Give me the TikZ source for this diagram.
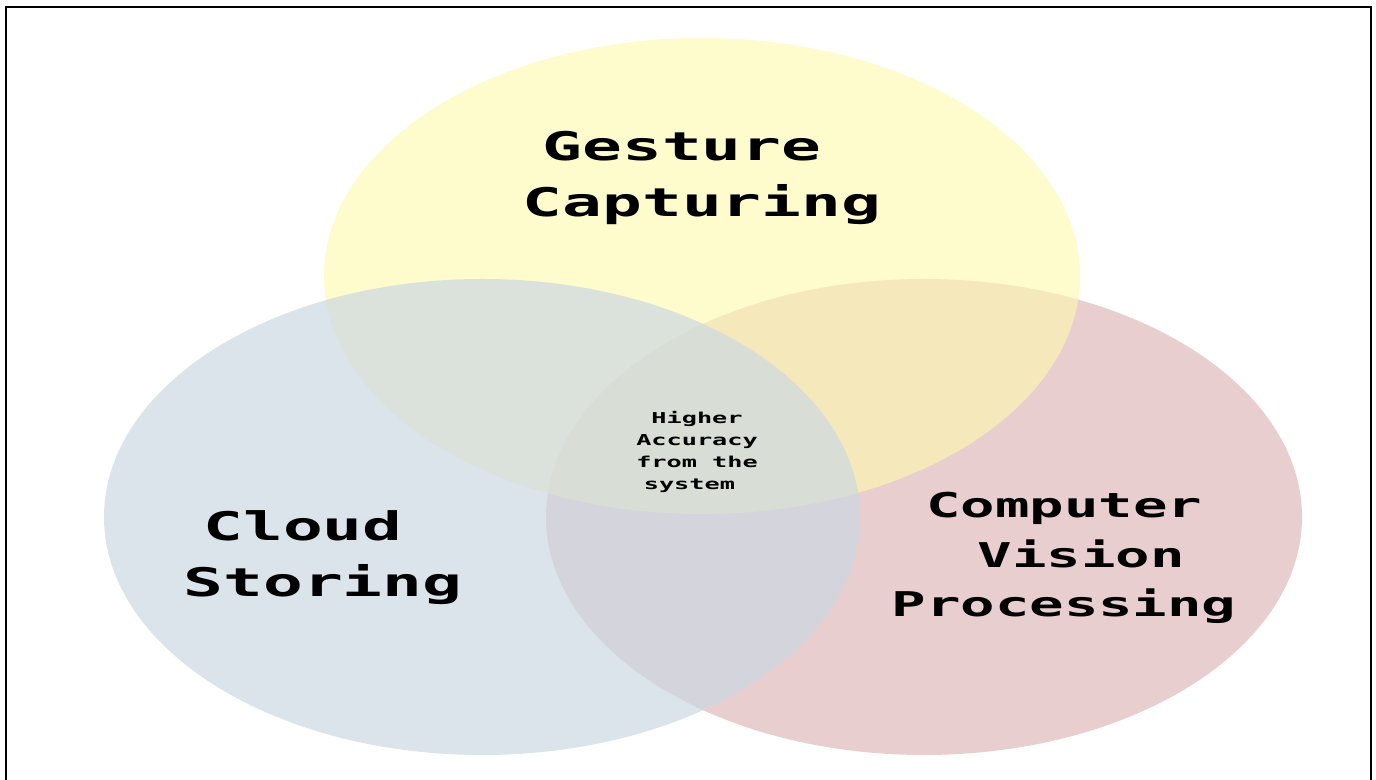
\documentclass[tikz,border=0pt]{standalone}
\usepackage{fontspec}
\setmonofont{DejaVu Sans Mono}
\definecolor{setred}{HTML}{E9CECF}
\definecolor{setyellow}{HTML}{FDF8AF}
\definecolor{setblue}{HTML}{CDD9E2}
\begin{document}
\begin{tikzpicture}[
  x=0.01cm, y=-0.01cm,
  frame/.style={draw=black, line width=0.6pt},
  redset/.style={fill=setred},
  yellowset/.style={fill=setyellow, fill opacity=0.64},
  blueset/.style={fill=setblue, fill opacity=0.72},
  big/.style={align=center, inner sep=0pt, xscale=1.68,
              font=\ttfamily\bfseries\fontsize{11.2}{15.9}\selectfont},
  mid/.style={align=center, inner sep=0pt, xscale=1.68,
              font=\ttfamily\bfseries\fontsize{9.7}{14.1}\selectfont},
  small/.style={align=center, inner sep=0pt, xscale=1.68,
              font=\ttfamily\bfseries\fontsize{4.27}{6.17}\selectfont}
]

\useasboundingbox (0,0) rectangle (1376,780);

\fill[redset]    (924,517) ellipse [x radius=378, y radius=238];
\fill[yellowset] (702,276) ellipse [x radius=378, y radius=238];
\fill[blueset]   (482,517) ellipse [x radius=378, y radius=238];

\draw[frame] (6,800) -- (6,7) -- (1371,7) -- (1371,800);

\node[big]   (gesture) at (702,178)  {Gesture~\null\\Capturing};
\node[big]   (cloud)   at (323,558)  {Cloud~\null\\Storing};
\node[mid]   (vision)  at (1064,558) {Computer\\\null~Vision\\Processing};
\node[small] (core)    at (697,452)  {Higher\\Accuracy\\from the\\system~\null};

\end{tikzpicture}
\end{document}
